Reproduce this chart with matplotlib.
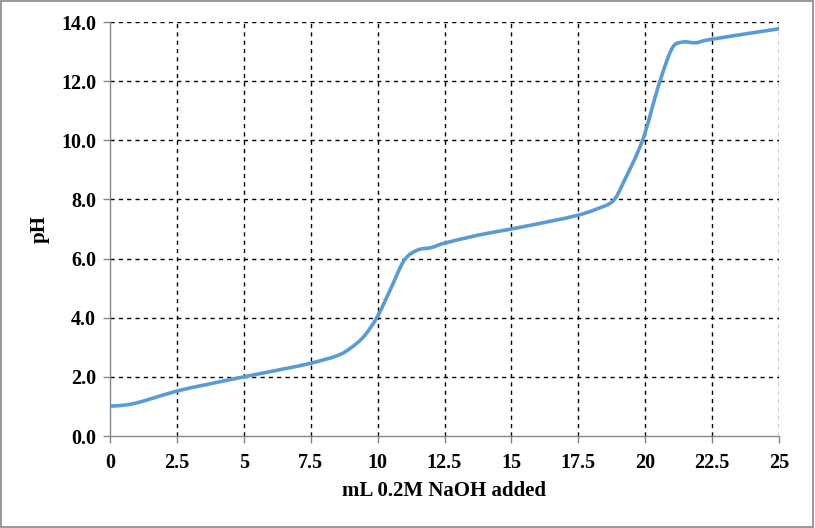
import matplotlib
matplotlib.use("Agg")
import matplotlib.pyplot as plt
from matplotlib.path import Path
from matplotlib.patches import PathPatch, Rectangle
import numpy as np

# titration curve
ml_naoh = [0, 0.5, 1.0, 1.5, 2.5, 3.5, 5.0, 6.5, 7.5, 8.5, 9.0, 9.5, 10.0,
           10.5, 11.0, 11.5, 12.0, 12.5, 13.8, 15.0, 16.5, 17.5, 18.2, 18.8,
           19.2, 19.9, 20.5, 21.0, 21.4, 21.9, 22.5, 25.0]
ph = [1.01, 1.04, 1.12, 1.25, 1.52, 1.72, 2.0, 2.27, 2.46, 2.72, 2.98, 3.38, 4.05,
      5.0, 5.95, 6.29, 6.37, 6.52, 6.8, 7.0, 7.27, 7.47, 7.68, 7.95,
      8.6, 10.0, 11.85, 13.1, 13.32, 13.3, 13.42, 13.77]

x_ticks = [0, 2.5, 5, 7.5, 10, 12.5, 15, 17.5, 20, 22.5, 25]
x_labels = ["0", "2.5", "5", "7.5", "10", "12.5", "15", "17.5", "20", "22.5", "25"]
y_ticks = [0, 2, 4, 6, 8, 10, 12, 14]

line_color = "#5B9BD5"
axis_gray = "#868686"

plt.rcParams['font.family'] = ['Liberation Serif', 'DejaVu Serif']

fig = plt.figure(figsize=(8.15, 5.28), dpi=100)
ax = fig.add_axes([110 / 815, 92 / 528, 669 / 815, 414 / 528])

# smooth line like Excel: Catmull-Rom turned into cubic Bezier segments
pts = np.column_stack([ml_naoh, ph])
verts = [pts[0]]
codes = [Path.MOVETO]
n = len(pts)
for i in range(n - 1):
    p0 = pts[i - 1] if i > 0 else pts[i]
    p1 = pts[i]
    p2 = pts[i + 1]
    p3 = pts[i + 2] if i + 2 < n else pts[i + 1]
    c1 = p1 + (p2 - p0) / 6.0
    c2 = p2 - (p3 - p1) / 6.0
    verts += [c1, c2, p2]
    codes += [Path.CURVE4] * 3
curve = PathPatch(Path(verts, codes), facecolor="none", edgecolor=line_color,
                  lw=2.6, capstyle="round", joinstyle="round", zorder=3)
ax.add_patch(curve)

ax.set_xlim(0, 25)
ax.set_ylim(0, 14)
ax.set_xticks(x_ticks)
ax.set_xticklabels(x_labels)
ax.set_yticks(y_ticks)
ax.set_yticklabels([f"{v:.1f}" for v in y_ticks])

# dashed gridlines, skipping the ones that sit on the axes
dash = dict(color="black", linestyle=(0, (3, 3)), linewidth=1.0, zorder=1)
for xv in x_ticks[1:]:
    ax.axvline(xv, **dash)
for yv in y_ticks[1:]:
    ax.axhline(yv, **dash)

for side in ["top", "right"]:
    ax.spines[side].set_visible(False)
for side in ["left", "bottom"]:
    ax.spines[side].set_color(axis_gray)
    ax.spines[side].set_linewidth(1.0)

ax.tick_params(axis="both", direction="out", length=5, width=1.0, color=axis_gray,
               labelsize=14.5)
ax.tick_params(axis="x", pad=7)
ax.tick_params(axis="y", pad=5)
for lab in ax.get_xticklabels() + ax.get_yticklabels():
    lab.set_fontweight("bold")

ax.set_xlabel("mL 0.2M NaOH added", fontsize=15, fontweight="bold", labelpad=6)
ax.set_ylabel("pH", fontsize=15, fontweight="bold", labelpad=8)

# outer chart border
fig.patches.append(Rectangle((0.001, 0.002), 0.997, 0.996, transform=fig.transFigure,
                             fill=False, edgecolor=axis_gray, linewidth=1.2))

fig.savefig("out.png", dpi=100)
